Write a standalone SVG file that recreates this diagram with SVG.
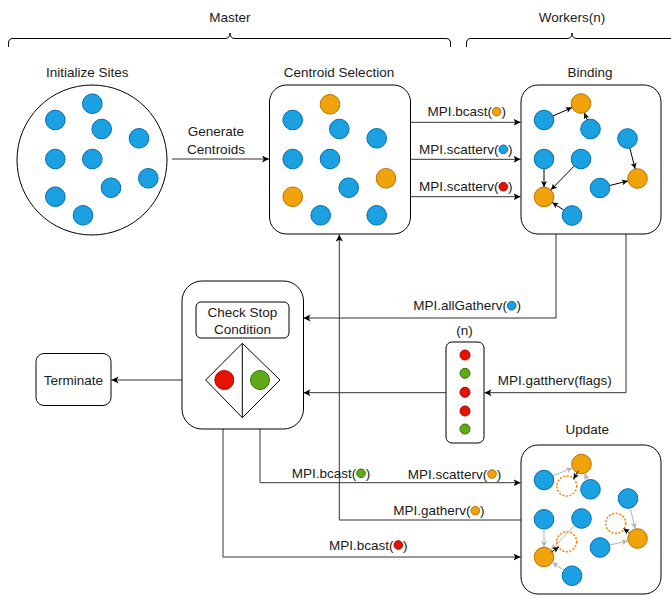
<svg xmlns="http://www.w3.org/2000/svg" width="671" height="596" viewBox="0 0 671 596">
<style>
text{font-family:"Liberation Sans",Arial,sans-serif;font-size:13.5px;fill:#1a1a1a;text-anchor:middle}
.box{fill:#fff;stroke:#000;stroke-width:1}
.b{fill:#1BA1E2;stroke:#006EAF;stroke-width:1}
.o{fill:#F0A30A;stroke:#BD7000;stroke-width:1}
.r{fill:#E51400;stroke:#B20000;stroke-width:1}
.g{fill:#60A917;stroke:#2D7600;stroke-width:1}
.d{fill:none;stroke:#FF8000;stroke-width:1.5;stroke-dasharray:2 1.6}
.c{fill:none;stroke:#333;stroke-width:1}
.ca{fill:none;stroke:#333;stroke-width:1;marker-end:url(#arr)}
.ia{fill:none;stroke:#000;stroke-width:1;marker-end:url(#arrS)}
.ga{fill:none;stroke:#B3B3B3;stroke-width:1;marker-end:url(#arrG)}
.br{fill:none;stroke:#000;stroke-width:1}
.s{text-anchor:end}
.e{text-anchor:start}
</style>
<defs>
<marker id="arr" markerUnits="userSpaceOnUse" markerWidth="8" markerHeight="8" refX="7" refY="3.5" orient="auto"><path d="M0,0 L7,3.5 L0,7 L1.8,3.5 Z" fill="#000"/></marker>
<marker id="arrS" markerUnits="userSpaceOnUse" markerWidth="7" markerHeight="7" refX="6" refY="3" orient="auto"><path d="M0,0 L6,3 L0,6 L1.5,3 Z" fill="#000"/></marker>
<marker id="arrG" markerUnits="userSpaceOnUse" markerWidth="7" markerHeight="7" refX="6" refY="3" orient="auto"><path d="M0,0 L6,3 L0,6 L1.5,3 Z" fill="#B3B3B3"/></marker>
</defs>

<g id="braces">
<path class="br" d="M8.5,47 L8.5,43 Q8.5,38.5 13,38.5 L225,38.5 Q230,38.5 230,33 Q230,38.5 235,38.5 L446,38.5 Q450.5,38.5 450.5,43 L450.5,47"/>
<path class="br" d="M466.5,47 L466.5,43 Q466.5,38.5 471,38.5 L567,38.5 Q572,38.5 572,33 Q572,38.5 577,38.5 L680,38.5"/>
<text x="230" y="21.5">Master</text>
<text x="572" y="21.5">Workers(n)</text>
</g>

<g id="connectors">
<path class="ca" d="M172,159 L269,159"/>
<path class="ca" d="M410.5,122.3 L520.5,122.3"/>
<path class="ca" d="M410.5,159.3 L520.5,159.3"/>
<path class="ca" d="M410.5,196.7 L520.5,196.7"/>
<path class="ca" d="M556,234 L556,318 L303.5,318"/>
<path class="ca" d="M626,234 L626,392.7 L484.5,392.7"/>
<path class="ca" d="M446,392.7 L303.5,392.7"/>
<path class="ca" d="M205.7,380 L111.5,380"/>
<path class="ca" d="M260,398 L260,482.7 L520.5,482.7"/>
<path class="ca" d="M223,398 L223,557 L520.5,557"/>
<path class="ca" d="M521,520 L339.3,520 L339.3,234.5"/>
<text x="216" y="136.4">Generate</text>
<text x="216" y="154">Centroids</text>
<text class="s" x="492" y="116.4">MPI.bcast(</text><circle class="o" cx="496.7" cy="111.7" r="4.3"/><text class="e" x="501.5" y="116.4">)</text>
<text class="s" x="498.6" y="154">MPI.scatterv(</text><circle class="b" cx="503.3" cy="149.3" r="4.3"/><text class="e" x="508.1" y="154">)</text>
<text class="s" x="498.6" y="191.4">MPI.scatterv(</text><circle class="r" cx="503.3" cy="186.7" r="4.3"/><text class="e" x="508.1" y="191.4">)</text>
<text class="s" x="507" y="310.4">MPI.allGatherv(</text><circle class="b" cx="511.7" cy="305.7" r="4.3"/><text class="e" x="516.5" y="310.4">)</text>
<text x="554.7" y="384.7">MPI.gattherv(flags)</text>
<text class="s" x="356.3" y="478">MPI.bcast(</text><circle class="g" cx="361" cy="473.3" r="4.3"/><text class="e" x="365.8" y="478">)</text>
<text class="s" x="487.3" y="478.7">MPI.scatterv(</text><circle class="o" cx="492" cy="474" r="4.3"/><text class="e" x="496.8" y="478.7">)</text>
<text class="s" x="470.6" y="515.4">MPI.gatherv(</text><circle class="o" cx="475.3" cy="510.7" r="4.3"/><text class="e" x="480.1" y="515.4">)</text>
<text class="s" x="393.6" y="549.7">MPI.bcast(</text><circle class="r" cx="398.3" cy="545" r="4.3"/><text class="e" x="403.1" y="549.7">)</text>
</g>

<g id="initialize-sites">
<text x="87.3" y="77.4">Initialize Sites</text>
<circle class="box" cx="92" cy="160" r="75"/>
<circle class="b" cx="92.3" cy="103.7" r="9.8"/>
<circle class="b" cx="55.3" cy="120" r="9.8"/>
<circle class="b" cx="101.7" cy="129" r="9.8"/>
<circle class="b" cx="139" cy="138.3" r="9.8"/>
<circle class="b" cx="55.3" cy="159" r="9.8"/>
<circle class="b" cx="92.3" cy="159" r="9.8"/>
<circle class="b" cx="148.3" cy="178.3" r="9.8"/>
<circle class="b" cx="111" cy="187.7" r="9.8"/>
<circle class="b" cx="55.3" cy="196.7" r="9.8"/>
<circle class="b" cx="83" cy="215.3" r="9.8"/>
</g>

<g id="centroid-selection">
<text x="339" y="77.4">Centroid Selection</text>
<rect class="box" x="269.5" y="85" width="141" height="149" rx="17"/>
<circle class="o" cx="330" cy="104.3" r="9.8"/>
<circle class="b" cx="292.7" cy="120" r="9.8"/>
<circle class="b" cx="339.3" cy="129" r="9.8"/>
<circle class="b" cx="376.7" cy="138.3" r="9.8"/>
<circle class="b" cx="292.7" cy="159" r="9.8"/>
<circle class="b" cx="330" cy="159" r="9.8"/>
<circle class="o" cx="386" cy="178.3" r="9.8"/>
<circle class="b" cx="348.7" cy="187.7" r="9.8"/>
<circle class="o" cx="292.7" cy="196.7" r="9.8"/>
<circle class="b" cx="320.7" cy="215.3" r="9.8"/>
<circle class="b" cx="376.7" cy="215.3" r="9.8"/>
</g>

<g id="binding">
<text x="590" y="77.4">Binding</text>
<rect class="box" x="521" y="85" width="140" height="149" rx="17"/>
<circle class="b" cx="544" cy="120" r="9.8"/>
<circle class="o" cx="581" cy="103.5" r="9.8"/>
<circle class="b" cx="590.5" cy="129" r="9.8"/>
<circle class="b" cx="627.5" cy="138.5" r="9.8"/>
<circle class="b" cx="544" cy="159" r="9.8"/>
<circle class="b" cx="581" cy="159" r="9.8"/>
<circle class="o" cx="637.5" cy="178.5" r="9.8"/>
<circle class="b" cx="600" cy="188" r="9.8"/>
<circle class="o" cx="544" cy="197" r="9.8"/>
<circle class="b" cx="572" cy="215.5" r="9.8"/>
<path class="ia" d="M553.1,115.9 L571.9,107.6"/>
<path class="ia" d="M587,119.6 L584.5,112.9"/>
<path class="ia" d="M629.9,148.2 L635.1,168.8"/>
<path class="ia" d="M609.7,185.5 L627.8,181"/>
<path class="ia" d="M544,169 L544,187"/>
<path class="ia" d="M574,166.2 L551,189.8"/>
<path class="ia" d="M563.7,210 L552.3,202.5"/>
</g>

<g id="check-stop">
<rect class="box" x="182" y="281" width="121.5" height="148" rx="20"/>
<rect class="box" x="196" y="302" width="93" height="36" rx="5"/>
<text x="242.5" y="317">Check Stop</text>
<text x="242.5" y="334">Condition</text>
<path class="box" d="M242.3,343.3 L280,380 L242.3,417.7 L205.7,380 Z"/>
<path class="br" d="M242.3,343.3 L242.3,417.7"/>
<circle class="r" cx="224.3" cy="380" r="9.5"/>
<circle class="g" cx="260" cy="380" r="9.5"/>
</g>

<g id="terminate">
<rect class="box" x="36" y="353.5" width="75" height="52" rx="8"/>
<text x="73.5" y="385.3">Terminate</text>
</g>

<g id="flags">
<text x="464.5" y="334.7">(n)</text>
<rect class="box" x="446" y="342" width="38" height="101" rx="6"/>
<circle class="r" cx="465" cy="355" r="5"/>
<circle class="g" cx="465" cy="373.3" r="5"/>
<circle class="r" cx="465" cy="392.3" r="5"/>
<circle class="r" cx="465" cy="411" r="5"/>
<circle class="g" cx="465" cy="429" r="5"/>
</g>

<g id="update">
<text x="587.3" y="434">Update</text>
<rect class="box" x="521" y="445" width="140" height="149" rx="17"/>
<circle class="b" cx="544" cy="480" r="9.8"/>
<circle class="o" cx="581.5" cy="464" r="9.8"/>
<circle class="d" cx="566.7" cy="486" r="10"/>
<circle class="b" cx="590.5" cy="489.3" r="9.8"/>
<circle class="b" cx="628" cy="498.5" r="9.8"/>
<circle class="d" cx="615.7" cy="523.3" r="10"/>
<circle class="b" cx="544" cy="519.3" r="9.8"/>
<circle class="b" cx="581.5" cy="518.5" r="9.8"/>
<circle class="o" cx="637.5" cy="538.5" r="9.8"/>
<circle class="d" cx="566.7" cy="541.7" r="10"/>
<circle class="b" cx="600" cy="547.5" r="9.8"/>
<circle class="o" cx="544" cy="557" r="9.8"/>
<circle class="b" cx="572" cy="575.7" r="9.8"/>
<path class="ga" d="M553.1,475.9 L572.3,467.9"/>
<path class="ga" d="M587.2,480 L584.8,473.3"/>
<path class="ga" d="M630.3,508.2 L635.1,528.8"/>
<path class="ga" d="M609.7,545 L627.8,541"/>
<path class="ga" d="M544,529 L544,547"/>
<path class="ga" d="M574.7,525.7 L551,549.8"/>
<path class="ga" d="M563.7,570.2 L552.3,562.5"/>
<path class="ia" d="M578.3,471 L573.5,479"/>
<path class="ia" d="M629.3,532.8 L623.5,528.5"/>
<path class="ia" d="M551.5,552 L558.8,547"/>
</g>
</svg>
